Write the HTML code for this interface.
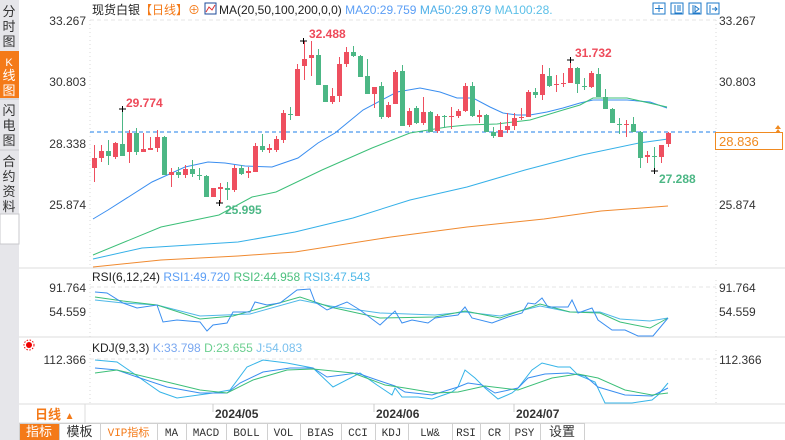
<!DOCTYPE html>
<html><head><meta charset="utf-8">
<style>
body{margin:0;width:785px;height:440px;overflow:hidden;background:#fff;font-family:"Liberation Sans","Noto Sans CJK SC",sans-serif;}
svg{position:absolute;left:0;top:0}
</style></head><body>
<svg id="s" width="785" height="440" xmlns="http://www.w3.org/2000/svg" font-family="Liberation Sans, Noto Sans CJK SC, sans-serif">
<rect x="0" y="0" width="19" height="440" fill="#e6e6ea"/>
<rect x="0" y="51" width="19" height="47" fill="#f47a18"/>
<line x1="0" y1="99" x2="19" y2="99" stroke="#c8c8cc"/>
<line x1="0" y1="150" x2="19" y2="150" stroke="#c8c8cc"/>
<rect x="0" y="214" width="19" height="30" fill="#fff" stroke="#c8c8cc"/>
<g font-size="13" fill="#333" text-anchor="middle">
<text x="9" y="16">分</text><text x="9" y="31">时</text><text x="9" y="46">图</text>
<text x="9" y="66" fill="#fff" font-size="11">K</text><text x="9" y="80" fill="#fff">线</text><text x="9" y="95" fill="#fff">图</text>
<text x="9" y="115">闪</text><text x="9" y="130">电</text><text x="9" y="145">图</text>
<text x="9" y="166">合</text><text x="9" y="181">约</text><text x="9" y="196">资</text><text x="9" y="211">料</text>
</g>
<g stroke="#dcdcdc"><line x1="19" y1="268" x2="785" y2="268"/><line x1="19" y1="337" x2="785" y2="337"/><line x1="19" y1="404" x2="785" y2="404"/><line x1="19" y1="423" x2="785" y2="423"/></g>
<g stroke="#d8d8d8" stroke-dasharray="1,3"><line x1="90" y1="20" x2="90" y2="268"/><line x1="716" y1="20" x2="716" y2="268"/><line x1="90" y1="280" x2="90" y2="337"/><line x1="716" y1="280" x2="716" y2="337"/><line x1="90" y1="350" x2="90" y2="404"/><line x1="716" y1="350" x2="716" y2="404"/></g>
<g stroke="#e4e4e4" stroke-dasharray="4,3"><line x1="90" y1="20" x2="716" y2="20"/><line x1="90" y1="287" x2="716" y2="287"/><line x1="90" y1="359" x2="716" y2="359"/></g>
<text x="92" y="14" font-size="12" fill="#222">现货白银<tspan fill="#f47a18">【日线】</tspan><tspan fill="#f47a18">⊕</tspan></text>
<rect x="205" y="3" width="11" height="11" fill="#fff" stroke="#1e4a9a"/><polyline points="206,12 209,7 212,10 215,5" fill="none" stroke="#d33" stroke-width="1"/>
<text x="219" y="14" font-size="12" fill="#222">MA(20,50,100,200,0,0) <tspan fill="#5b9ef5">MA20:29.759</tspan> <tspan fill="#4fb0e8">MA50:29.879</tspan> <tspan fill="#5cc0e8">MA100:28.</tspan></text>
<g fill="#fff" stroke="#1e78c8"><rect x="653" y="3" width="12" height="11"/><rect x="671" y="3" width="12" height="11"/><rect x="689" y="3" width="12" height="11"/><rect x="707" y="3" width="12" height="11"/></g>
<g stroke="#1e78c8" fill="none"><path d="M659 5v7M655 8.5h8"/><path d="M675 5v8h7M678 5v6M680 5v6"/><path d="M693 5v8h7M695 6l4 3-4 3z"/><path d="M710 5v8M712 9h5M715 7l2 2-2 2"/></g>
<g font-size="12" fill="#333" text-anchor="end"><text x="86" y="25">33.267</text><text x="86" y="86">30.803</text><text x="86" y="148">28.338</text><text x="86" y="209">25.874</text><text x="86" y="292">91.764</text><text x="86" y="316">54.559</text><text x="86" y="364">112.366</text></g>
<g font-size="12" fill="#333"><text x="719" y="25">33.267</text><text x="719" y="86">30.803</text><text x="719" y="209">25.874</text><text x="719" y="292">91.764</text><text x="719" y="316">54.559</text><text x="719" y="364">112.366</text></g>
<line x1="90" y1="132" x2="716" y2="132" stroke="#1e7fe8" stroke-dasharray="4,3"/>
<rect x="715.5" y="132.5" width="67" height="17" fill="#fff" stroke="#f08a20"/>
<text x="719" y="146" font-size="13" fill="#f08a20">28.836</text>
<path d="M778 125l3 4h-6zM778 129l3 4h-6z" fill="#f08a20"/>
<g id="ma" fill="none" stroke-width="1"></g>
<g id="cd"></g>
<g font-size="12" font-weight="bold"><text x="126" y="107" fill="#ee4a5a">29.774</text><text x="309" y="38" fill="#ee4a5a">32.488</text><text x="575" y="57" fill="#ee4a5a">31.732</text><text x="225" y="214" fill="#4cb785">25.995</text><text x="659" y="183" fill="#4cb785">27.288</text></g>
<g stroke="#000"><path d="M119 109h7M122.5 106v6M300 41h7M303.5 38v6M567 60h7M570.5 57v6M216 203h7M219.5 200v6M651 171h7M654.5 168v6"/></g>
<text x="92" y="281" font-size="12" fill="#222">RSI(6,12,24) <tspan fill="#5b9ef5">RSI1:49.720</tspan>  <tspan fill="#4cc07e">RSI2:44.958</tspan>  <tspan fill="#4fb8e8">RSI3:47.543</tspan></text>
<text x="92" y="352" font-size="12" fill="#222">KDJ(9,3,3)  <tspan fill="#7aa8f0">K:33.798</tspan>  <tspan fill="#6ccf90">D:23.655</tspan>  <tspan fill="#7ac0ee">J:54.083</tspan></text>
<circle cx="29" cy="345" r="3" fill="#e00"/><circle cx="29" cy="345" r="5" fill="none" stroke="#e00" stroke-dasharray="1.5,1.5"/>
<g id="ind" fill="none"></g>
<line x1="85" y1="404" x2="85" y2="423" stroke="#dcdcdc"/>
<text x="35" y="419" font-size="13" font-weight="bold" fill="#f47a18">日线 <tspan font-size="10">▲</tspan></text>
<g font-size="12" font-weight="bold" fill="#333"><text x="215" y="418">2024/05</text><text x="376" y="418">2024/06</text><text x="516" y="418">2024/07</text></g>
<g stroke="#ccc"><line x1="213" y1="404" x2="213" y2="412"/><line x1="374" y1="404" x2="374" y2="412"/><line x1="514" y1="404" x2="514" y2="412"/></g>
<g id="tb"></g>
</svg>
<script>
var s='',C=[[158,168,145,182,'r'],[151,158,145,162,'r'],[151,156,140,165,'g'],[143,157,142,159,'r'],[144,156,109,156,'g'],[133,152,130,163,'r'],[133,152,128,155,'g'],[149,152,133,152,'r'],[148,150,137,150,'r'],[137,148,130,152,'r'],[137,175,136,175,'g'],[172,175,168,187,'r'],[172,175,167,178,'g'],[169,175,165,178,'r'],[169,174,160,177,'g'],[175,176,168,180,'g'],[176,197,175,197,'g'],[188,197,188,197,'r'],[187,189,183,203,'r'],[188,190,182,200,'g'],[168,190,165,192,'r'],[168,174,165,175,'g'],[171,173,167,178,'r'],[146,172,143,172,'r'],[146,150,134,152,'g'],[148,150,144,153,'r'],[139,150,136,152,'r'],[113,140,110,143,'r'],[114,115,107,120,'g'],[69,116,64,116,'r'],[59,66,41,80,'r'],[55,58,41,76,'r'],[55,85,49,85,'g'],[85,102,85,102,'g'],[96,102,88,104,'r'],[64,96,57,102,'r'],[52,64,47,67,'r'],[52,56,46,57,'g'],[56,77,55,77,'g'],[76,94,59,94,'g'],[87,94,87,108,'r'],[86,117,82,119,'g'],[105,117,102,118,'r'],[72,104,70,104,'r'],[71,126,65,126,'g'],[111,125,108,127,'r'],[108,123,106,124,'g'],[112,123,97,125,'r'],[112,132,111,132,'g'],[116,131,114,133,'r'],[116,117,115,128,'g'],[116,117,107,129,'r'],[111,116,109,118,'r'],[86,111,83,112,'r'],[86,116,82,117,'g'],[115,117,110,123,'r'],[115,132,114,132,'g'],[132,136,127,138,'g'],[130,137,122,137,'r'],[126,130,113,133,'r'],[118,126,113,130,'r'],[117,118,108,120,'r'],[92,117,90,117,'r'],[92,95,88,98,'g'],[74,95,65,100,'r'],[76,86,68,87,'g'],[84,85,75,92,'r'],[83,84,73,87,'r'],[68,83,60,83,'r'],[68,84,67,93,'g'],[86,87,78,90,'g'],[73,87,71,88,'r'],[74,97,68,97,'g'],[97,109,89,109,'g'],[109,123,108,123,'g'],[124,125,118,134,'g'],[124,125,120,137,'r'],[124,132,117,132,'g'],[132,158,131,168,'g'],[155,157,151,163,'r'],[156,157,147,171,'g'],[145,157,145,163,'r'],[133,144,132,147,'r']];
C.forEach(function(c,i){var x=94+7*i,col=c[4]=='r'?'#ee4f5f':'#4cb785';
s+='<line x1="'+(x+.5)+'" y1="'+c[2]+'" x2="'+(x+.5)+'" y2="'+c[3]+'" stroke="'+col+'"/>';
s+='<rect x="'+(x-2)+'" y="'+c[0]+'" width="5" height="'+Math.max(1,c[1]-c[0])+'" fill="'+col+'"/>';});
document.getElementById('cd').innerHTML=s;
function pl(p,c){return '<polyline points="'+p+'" stroke="'+c+'" fill="none" stroke-width="1"/>';}
document.getElementById('ma').innerHTML=
pl('93,219 108,210 152,182 185,167 208,162 225,163 245,166 272,167 298,158 318,143 335,133 363,110 397,92 420,88 440,92 457,98 473,98 490,107 503,113 517,115 530,115 547,112 563,108 580,103 593,100 627,100 650,102 667,108','#3a8ef0')+
pl('93,255 161,227 219,215 252,197 276,192 322,170 372,148 410,133 447,127 467,125 497,124 530,120 563,110 580,105 593,98 627,98 667,107','#3cbf78')+
pl('93,259 142,248 238,242 295,232 353,218 410,200 467,187 525,170 582,155 639,143 668,139','#35b0e8')+
pl('93,267 161,260 238,256 295,252 391,237 467,227 544,219 601,211 668,206','#f08a30');
document.getElementById('ind').innerHTML=
pl('95,300 123,303 157,305 200,316 250,314 300,300 330,306 380,313 435,315 465,312 500,316 540,306 570,312 600,312 620,319 650,321 668,318','#4fb8e8')+
pl('95,297 123,301 157,305 200,319 233,316 300,297 330,307 380,318 435,317 465,311 500,318 540,304 570,312 600,313 620,322 650,328 668,318','#3cbf78')+
pl('95,292 107,293 123,303 137,308 157,305 163,322 177,320 200,322 207,331 213,325 227,323 233,312 250,312 255,302 267,305 280,303 297,290 310,289 315,302 327,310 347,302 360,310 380,325 395,311 402,323 412,320 428,323 435,318 458,315 465,307 472,318 492,323 508,317 522,313 528,303 535,304 542,298 548,307 568,307 572,300 578,313 592,308 598,320 612,330 625,330 638,336 653,336 668,318','#3a8ef0')+
pl('95,360 117,362 133,373 147,383 160,392 177,398 213,393 230,390 247,367 263,360 287,363 313,368 333,387 360,373 377,385 392,395 395,388 402,397 418,397 432,399 452,392 458,387 465,370 475,378 485,388 498,399 512,393 518,388 532,370 542,363 558,367 570,367 578,375 595,382 605,403 632,403 652,400 658,395 668,383','#35b4e8')+
pl('95,368 117,370 140,378 167,387 200,393 227,393 240,383 263,372 290,368 313,368 327,377 357,373 377,380 395,386 405,392 432,395 458,387 468,383 482,385 495,393 518,388 528,378 545,374 568,373 585,376 598,387 625,395 652,396 668,388','#3a8ef0')+
pl('95,373 117,370 167,382 200,390 227,393 253,380 287,370 313,369 353,373 385,385 405,388 435,393 458,392 485,386 518,390 552,378 578,374 598,378 625,390 652,395 668,393','#3cbf78');
var T=[['指标',19,59,1],['模板',59,100],['VIP指标',100,157,2],['MA',157,186],['MACD',186,226],['BOLL',226,267],['VOL',267,300],['BIAS',300,341],['CCI',341,375],['KDJ',375,408],['LW&amp;',408,452],['RSI',452,480],['CR',480,509],['PSY',509,540],['设置',540,584]],t='';
T.forEach(function(a){t+='<rect x="'+a[1]+'.5" y="423.5" width="'+(a[2]-a[1])+'" height="17" fill="'+(a[3]==1?'#f47a18':'#fff')+'" stroke="#d0d0d0"/>';
var cjk=/[指模设]/.test(a[0][0]);
t+='<text x="'+((a[1]+a[2])/2)+'" y="436" text-anchor="middle" font-size="'+(cjk?13:11)+'" font-family="'+(cjk?'Noto Sans CJK SC, sans-serif':'Liberation Mono, monospace')+'" fill="'+(a[3]==1?'#fff':a[3]==2?'#f47a18':'#333')+'">'+a[0]+'</text>';});
document.getElementById('tb').innerHTML=t;
</script>
</body></html>
